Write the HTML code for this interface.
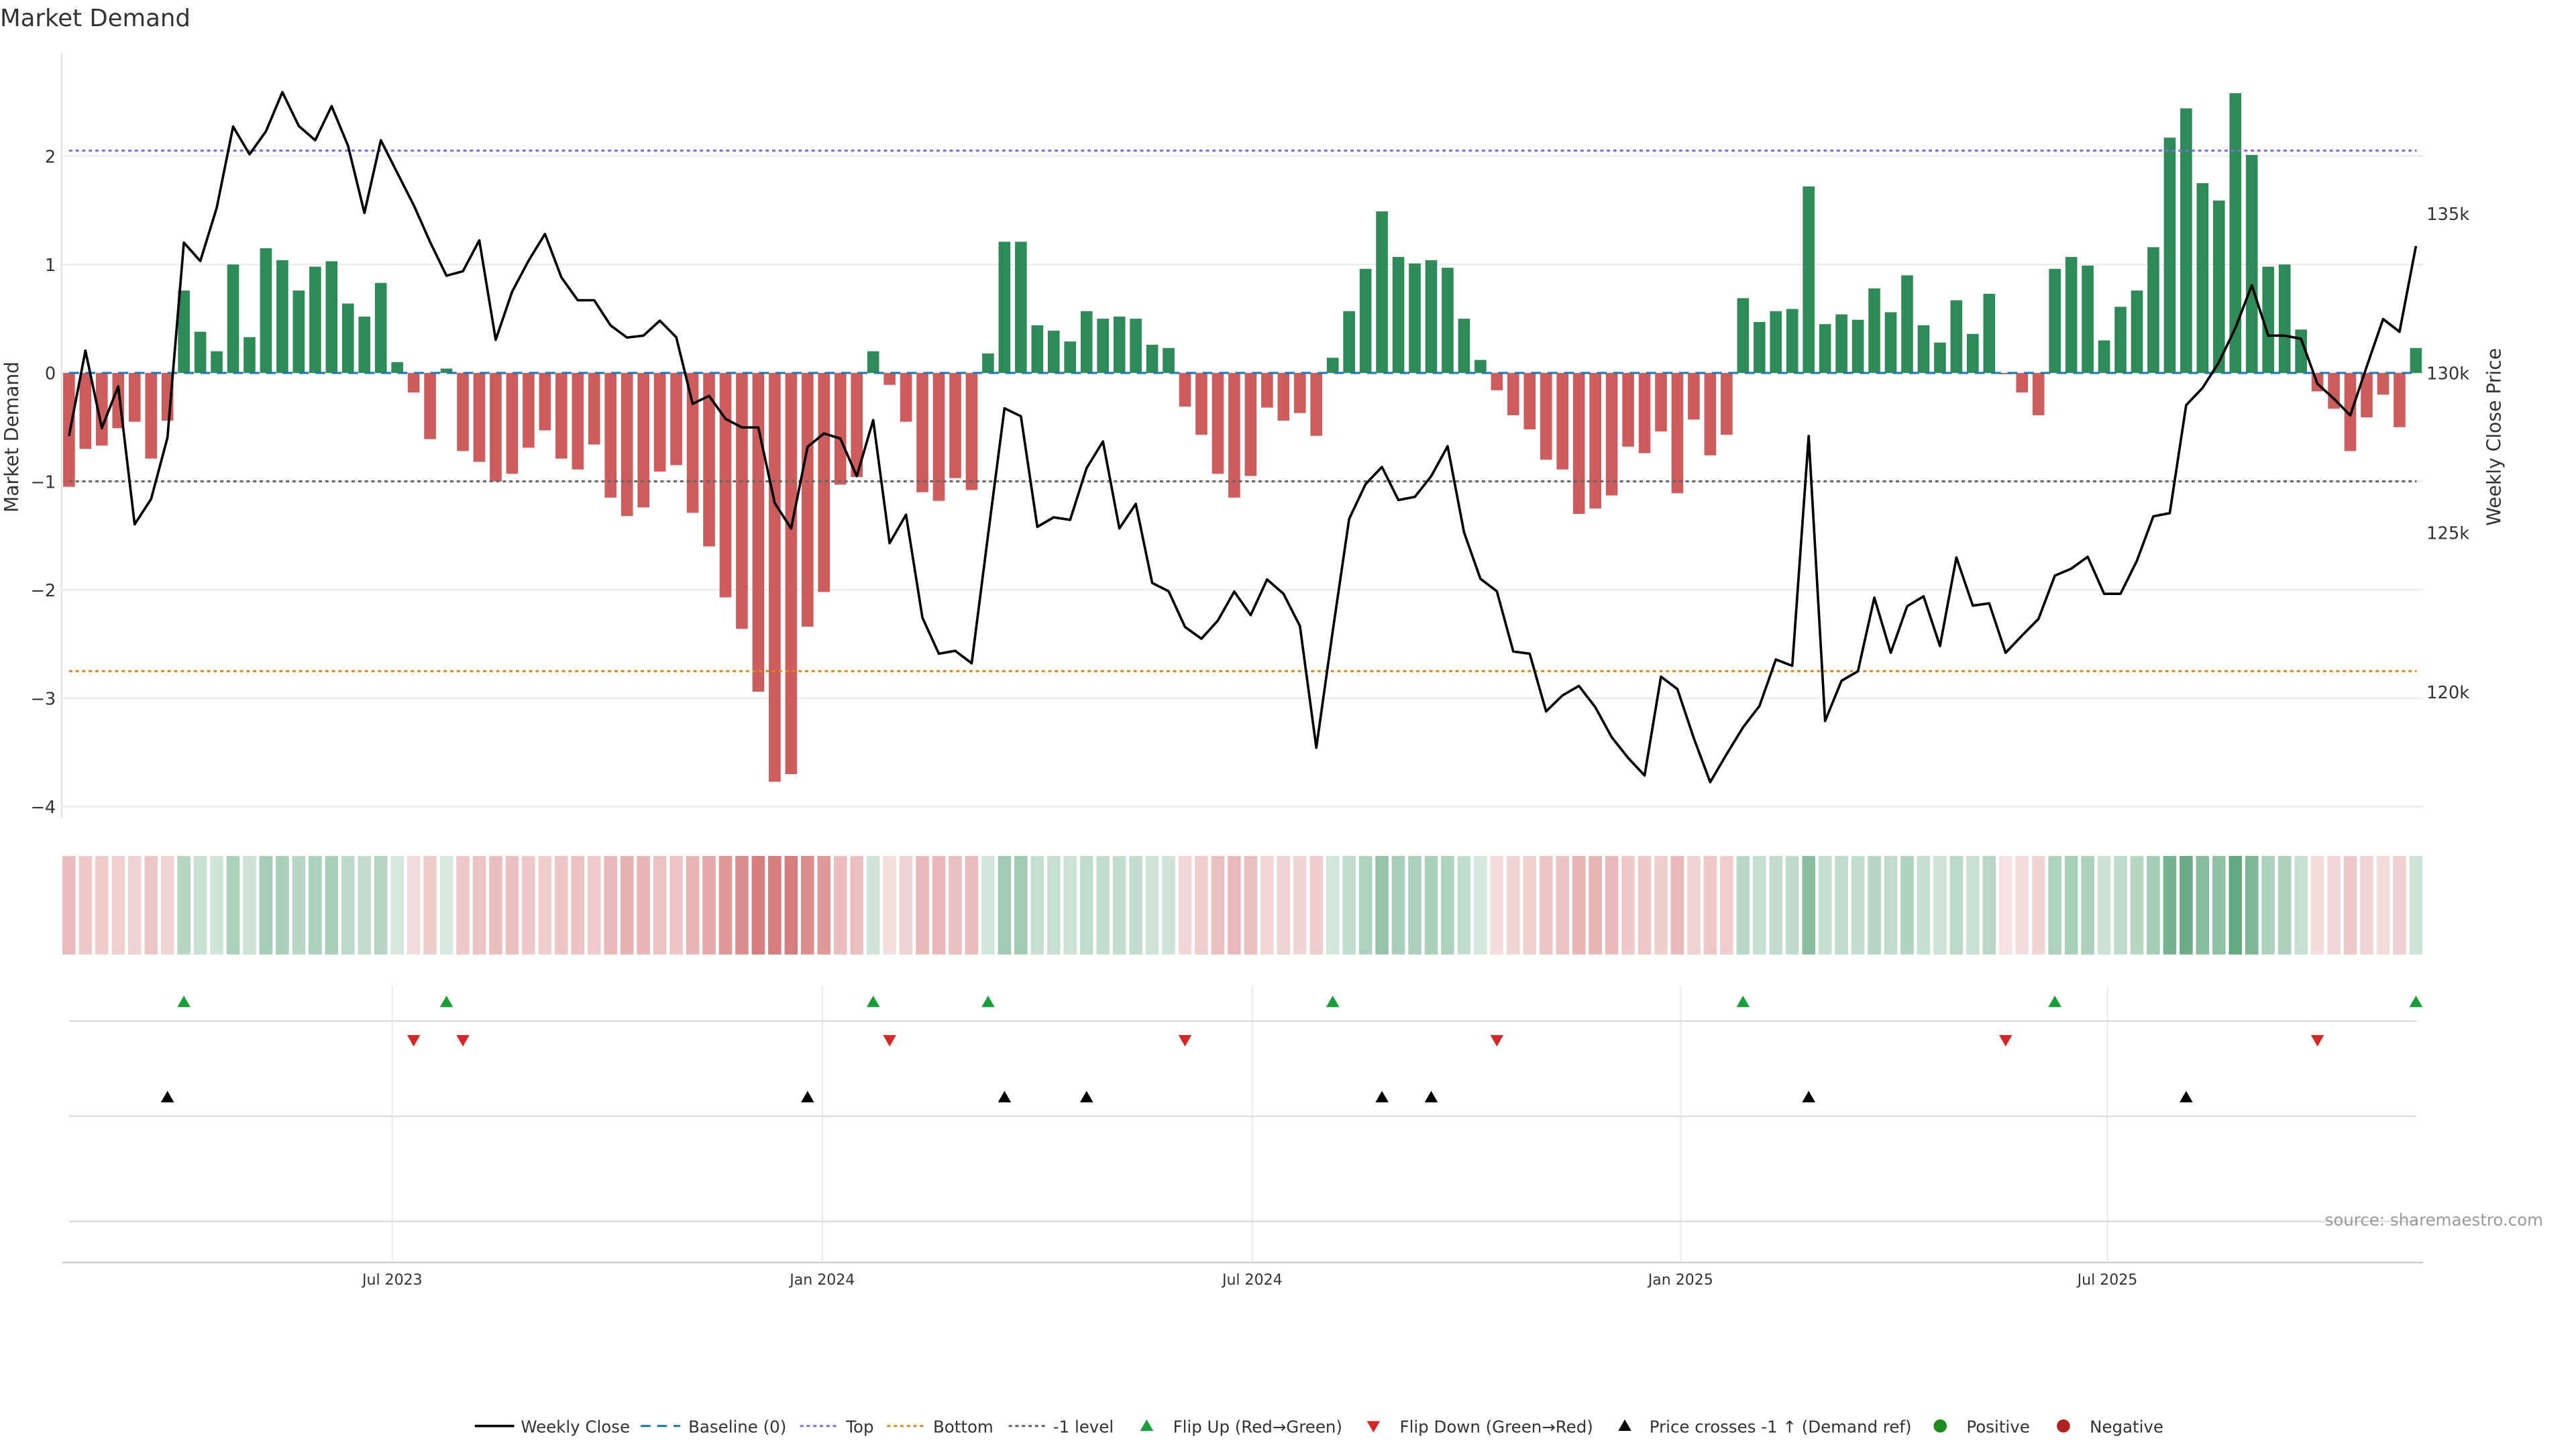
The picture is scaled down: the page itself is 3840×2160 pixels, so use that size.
<!DOCTYPE html>
<html><head><meta charset="utf-8"><style>
html,body{margin:0;padding:0;background:#fff;}
svg{display:block;font-family:"DejaVu Sans","Liberation Sans",sans-serif;}
</style></head><body>
<svg id="chart" width="3840" height="2160" viewBox="0 0 1568 882" xmlns="http://www.w3.org/2000/svg">
<text x="0" y="16" font-size="14.5" fill="#333">Market Demand</text>
<g id="grid"></g><g id="strip"></g><g id="bars"></g><g id="lines"></g><g id="events"></g><g id="axes"></g><g id="legend"></g>
<text x="1548" y="746" font-size="10" fill="#999" text-anchor="end">source: sharemaestro.com</text>
</svg>
<script>
const demand=[-1.05,-0.70,-0.67,-0.51,-0.45,-0.79,-0.44,0.76,0.38,0.20,1.00,0.33,1.15,1.04,0.76,0.98,1.03,0.64,0.52,0.83,0.10,-0.18,-0.61,0.04,-0.72,-0.82,-1.00,-0.93,-0.69,-0.53,-0.79,-0.89,-0.66,-1.15,-1.32,-1.24,-0.91,-0.85,-1.29,-1.60,-2.07,-2.36,-2.94,-3.77,-3.70,-2.34,-2.02,-1.03,-0.96,0.20,-0.11,-0.45,-1.10,-1.18,-0.97,-1.08,0.18,1.21,1.21,0.44,0.39,0.29,0.57,0.50,0.52,0.50,0.26,0.23,-0.31,-0.57,-0.93,-1.15,-0.95,-0.32,-0.44,-0.37,-0.58,0.14,0.57,0.96,1.49,1.07,1.01,1.04,0.97,0.50,0.12,-0.16,-0.39,-0.52,-0.80,-0.89,-1.30,-1.25,-1.13,-0.68,-0.74,-0.54,-1.11,-0.43,-0.76,-0.57,0.69,0.47,0.57,0.59,1.72,0.45,0.54,0.49,0.78,0.56,0.90,0.44,0.28,0.67,0.36,0.73,-0.01,-0.18,-0.39,0.96,1.07,0.99,0.30,0.61,0.76,1.16,2.17,2.44,1.75,1.59,2.58,2.01,0.98,1.00,0.40,-0.17,-0.33,-0.72,-0.41,-0.20,-0.50,0.23];
const price=[128.02,130.70,128.27,129.58,125.25,126.04,127.97,134.09,133.51,135.18,137.73,136.86,137.58,138.81,137.75,137.30,138.37,137.13,135.02,137.30,136.28,135.27,134.11,133.05,133.19,134.16,131.04,132.55,133.52,134.36,133.00,132.28,132.28,131.49,131.11,131.17,131.64,131.12,129.03,129.28,128.56,128.29,128.29,125.92,125.12,127.68,128.10,127.94,126.76,128.52,124.66,125.55,122.32,121.19,121.28,120.89,124.92,128.89,128.64,125.17,125.47,125.39,127.01,127.85,125.12,125.89,123.41,123.15,122.03,121.66,122.23,123.14,122.40,123.52,123.07,122.06,118.24,121.90,125.42,126.51,127.05,126.01,126.11,126.76,127.70,125.00,123.54,123.15,121.26,121.19,119.38,119.88,120.18,119.51,118.57,117.92,117.37,120.47,120.08,118.54,117.16,118.04,118.88,119.55,121.01,120.81,128.02,119.08,120.34,120.64,122.95,121.22,122.68,122.99,121.43,124.21,122.70,122.77,121.22,121.76,122.28,123.64,123.86,124.23,123.07,123.07,124.11,125.50,125.60,128.99,129.53,130.34,131.41,132.75,131.17,131.17,131.07,129.66,129.19,128.67,130.20,131.69,131.29,133.98];
const leftTicks=[2,1,0,-1,-2,-3,-4];
const leftTickLabels=["2","1","0","\u22121","\u22122","\u22123","\u22124"];
const rightTicks=[135,130,125,120];
const rightTickLabels=["135k","130k","125k","120k"];
const levelTop=[2.05];
const levelBottom=[-2.75];
const levelMinus=[-1];
const monthTickIdx=[19.7,45.9,72.1,98.2,124.2];
const monthTickLabels=["Jul 2023","Jan 2024","Jul 2024","Jan 2025","Jul 2025"];

const NS="http://www.w3.org/2000/svg";
const X0=42,STEP=9.99;
function xS(i){return X0+i*STEP;}
function yL(v){return 227-v*66;}
function yR(p){return 227-(p-130)*19.4;}
function mk(tag,attrs,parent){const e=document.createElementNS(NS,tag);for(const k in attrs)e.setAttribute(k,attrs[k]);parent.appendChild(e);return e;}
const G=id=>document.getElementById(id);
const grid=G('grid'),bars=G('bars'),lines=G('lines'),strip=G('strip'),ev=G('events'),axes=G('axes'),lg=G('legend');

leftTicks.forEach((t,i)=>{
 const l=mk('line',{x1:38,x2:1475,y1:yL(t),y2:yL(t),stroke:'#ececec','stroke-width':1},grid);
 
 
 const tx=mk('text',{x:34,y:yL(t)+4,'font-size':10.5,fill:'#333','text-anchor':'end'},axes);
 tx.textContent=leftTickLabels[i];
 
 
});
rightTicks.forEach((t,i)=>{
 const tx=mk('text',{x:1477,y:yR(t)+4,'font-size':10.5,fill:'#333'},axes);
 tx.textContent=rightTickLabels[i];
 
 
});
const la=mk('line',{x1:37.5,x2:37.5,y1:32,y2:498,stroke:'#e4e4e4'},axes);


const yt=mk('text',{x:0,y:0,'font-size':11.5,fill:'#333','text-anchor':'middle',transform:'translate(11,266) rotate(-90)'},axes);
yt.textContent='Market Demand';


const yt2=mk('text',{x:0,y:0,'font-size':11.5,fill:'#333','text-anchor':'middle',transform:'translate(1522,266) rotate(-90)'},axes);
yt2.textContent='Weekly Close Price';



demand.forEach((v,i)=>{
 const y=Math.min(yL(v),yL(0)),h=Math.abs(yL(v)-yL(0));
 const r=mk('rect',{x:xS(i)-3.6,y:y,width:7.2,height:Math.max(h,0.8),fill:v>=0?'#2e8b57':'#cd5c5c'},bars);
 
 
 const a=Math.min(0.18+0.22*Math.abs(v),0.8);
 const c=mk('rect',{x:xS(i)-4,y:521,width:8,height:60,fill:v>=0?'#2e8b57':'#cd5c5c','fill-opacity':a},strip);
 
 
});
function hline(v,color,dash,name){const l=mk('line',{x1:42,x2:1471,y1:yL(v),y2:yL(v),stroke:color,'stroke-width':1.3,'stroke-dasharray':dash},lines);
 
 }
hline(0,'#1f77b4','6 4','baseline-zero');
hline(levelTop[0],'#7b6fd8','2 2','top-level-line');
hline(levelBottom[0],'#e08a1e','2 2','bottom-level-line');
hline(levelMinus[0],'#666','2 2','minus-one-level-line');
const pl=mk('polyline',{points:price.map((p,i)=>xS(i)+','+yR(p)).join(' '),fill:'none',stroke:'#000','stroke-width':1.5,'stroke-linejoin':'round'},lines);



monthTickIdx.forEach((m,i)=>{
 const x=xS(m);
 const g=mk('line',{x1:x,x2:x,y1:600,y2:768,stroke:'#eee'},grid);
 
 
 const t=mk('text',{x:x,y:782,'font-size':9,fill:'#333','text-anchor':'middle'},axes);
 t.textContent=monthTickLabels[i];
 
 
});
[621.5,679.5,743.5,768.5].forEach(y=>{
 const l=mk('line',{x1:y>760?38:42,x2:y>760?1475:1471,y1:y,y2:y,stroke:y>760?'#ccc':'#ddd'},grid);
 
 
});
const thr=yL(-1);
for(let i=1;i<demand.length;i++){
 const x=xS(i);
 if(demand[i-1]<0&&demand[i]>=0){const t=mk('path',{d:`M${x-4},${613}L${x+4},${613}L${x},${606}Z`,fill:'#1a9e3a'},ev);
  
  }
 if(demand[i-1]>=0&&demand[i]<0){const t=mk('path',{d:`M${x-4},${630}L${x+4},${630}L${x},${637}Z`,fill:'#d62728'},ev);
  
  }
 if(yR(price[i-1])>thr+0.5&&yR(price[i])<=thr+0.5){const t=mk('path',{d:`M${x-4},${671}L${x+4},${671}L${x},${664}Z`,fill:'#000'},ev);
  
  }
}

const LY=868;
function ltext(x,s){const t=mk('text',{x:x,y:LY+4,'font-size':10,fill:'#333'},lg);t.textContent=s;
 
 }
function lline(x,c,d,w){const l=mk('line',{x1:x,x2:x+24,y1:LY,y2:LY,stroke:c,'stroke-width':w,'stroke-dasharray':d},lg);
 
 }
lline(289,'#000','',1.5);ltext(317,'Weekly Close');
lline(390,'#1f77b4','6 4',1.3);ltext(419,'Baseline (0)');
lline(487,'#7b6fd8','2 2',1.3);ltext(515,'Top');
lline(540,'#e08a1e','2 2',1.3);ltext(568,'Bottom');
lline(614,'#666','2 2',1.3);ltext(641,'-1 level');
function ltri(x,c,up){const d=up?`M${x-4},${LY+3}L${x+4},${LY+3}L${x},${LY-4}Z`:`M${x-4},${LY-3}L${x+4},${LY-3}L${x},${LY+4}Z`;
 const t=mk('path',{d:d,fill:c},lg);
 
 }
ltri(698,'#1a9e3a',true);ltext(714,'Flip Up (Red\u2192Green)');
ltri(836,'#d62728',false);ltext(852,'Flip Down (Green\u2192Red)');
ltri(989,'#000',true);ltext(1004,'Price crosses -1 \u2191 (Demand ref)');
function ldot(x,c){const t=mk('circle',{cx:x,cy:LY,r:4,fill:c},lg);
 
 }
ldot(1181,'#1f8a1f');ltext(1197,'Positive');
ldot(1256,'#b22222');ltext(1272,'Negative');
</script>
</body></html>
